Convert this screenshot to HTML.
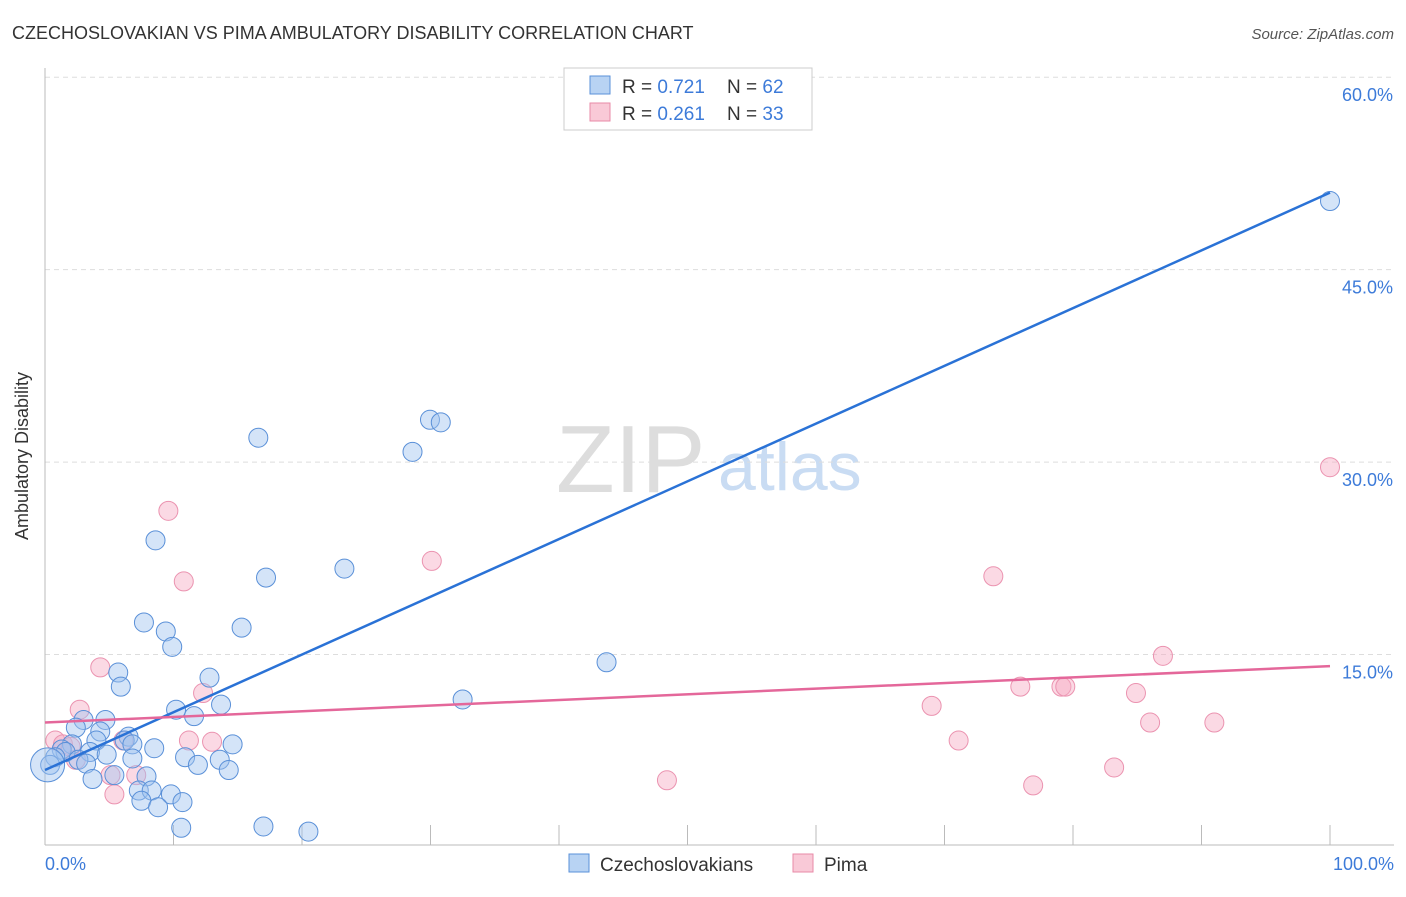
<!DOCTYPE html>
<html><head><meta charset="utf-8"><style>
body{margin:0;background:#fff;font-family:"Liberation Sans",sans-serif;}
svg text{font-family:"Liberation Sans",sans-serif;}
</style></head><body>
<svg width="1406" height="892">
<text x="12" y="39" font-size="18" fill="#333">CZECHOSLOVAKIAN VS PIMA AMBULATORY DISABILITY CORRELATION CHART</text>
<text x="1394" y="39" font-size="15" fill="#555" font-style="italic" text-anchor="end">Source: ZipAtlas.com</text>
<text x="556" y="492" font-size="96" fill="#ddd" font-family="Liberation Serif">ZIP</text>
<text x="718" y="490" font-size="68" fill="#c9dcf3">atlas</text>
<g id="grid"></g>
<line x1="45" y1="68" x2="45" y2="845" stroke="#bbb"/>
<line x1="45" y1="845" x2="1394" y2="845" stroke="#bbb"/>
<g id="ticks"></g>
<text x="28" y="456" font-size="18" fill="#333" text-anchor="middle" transform="rotate(-90 28 456)">Ambulatory Disability</text>
<text x="45" y="870" font-size="18" fill="#3d7bd9">0.0%</text>
<text x="1394" y="870" font-size="18" fill="#3d7bd9" text-anchor="end">100.0%</text>
<g id="pts"></g>
<g id="lines"></g>
<g>
<rect x="564" y="68" width="248" height="62" fill="#fff" stroke="#ccc"/>
<rect x="590" y="76" width="20" height="18" fill="#b8d3f3" stroke="#5a90d8"/>
<rect x="590" y="103" width="20" height="18" fill="#f9c9d7" stroke="#e88aa7"/>
<text x="622" y="93" font-size="19" fill="#333">R = <tspan fill="#3d7bd9">0.721</tspan></text>
<text x="727" y="93" font-size="19" fill="#333">N = <tspan fill="#3d7bd9">62</tspan></text>
<text x="622" y="120" font-size="19" fill="#333">R = <tspan fill="#3d7bd9">0.261</tspan></text>
<text x="727" y="120" font-size="19" fill="#333">N = <tspan fill="#3d7bd9">33</tspan></text>
</g>
<g>
<rect x="569" y="854" width="20" height="18" fill="#b8d3f3" stroke="#5a90d8"/>
<text x="600" y="871" font-size="19" fill="#333">Czechoslovakians</text>
<rect x="793" y="854" width="20" height="18" fill="#f9c9d7" stroke="#e88aa7"/>
<text x="824" y="871" font-size="19" fill="#333">Pima</text>
</g>
</svg>
<script>
const yTicks=[15,30,45,60];
const yTickLabels=["15.0%","30.0%","45.0%","60.0%"];
const blueX=[100,29.96,30.8,16.6,28.6,8.6,17.2,23.3,7.7,15.3,9.4,9.9,43.7,5.7,12.8,5.9,32.5,13.7,10.2,11.6,4.7,3.0,2.4,4.3,6.5,6.2,4.0,6.8,14.6,2.1,8.5,1.3,3.5,1.6,4.8,10.9,0.8,6.8,2.6,13.6,3.2,11.9,0.4,14.3,5.4,7.9,3.7,7.3,8.3,9.8,7.5,10.7,8.8,10.6,17.0,20.5,0.2];
const blueY=[50.35,33.3,33.1,31.9,30.8,23.9,21.0,21.7,17.5,17.1,16.8,15.6,14.4,13.6,13.2,12.5,11.5,11.1,10.7,10.2,9.9,9.9,9.3,9.0,8.6,8.3,8.3,8.0,8.0,8.0,7.7,7.6,7.4,7.4,7.2,7.0,7.0,6.9,6.8,6.8,6.5,6.4,6.4,6.0,5.6,5.5,5.3,4.4,4.4,4.1,3.6,3.5,3.1,1.5,1.6,1.2,6.4];
const pinkX=[100,9.6,30.1,10.8,73.8,87.0,4.3,75.9,79.1,79.4,12.3,84.9,69.0,2.7,86.0,91.0,0.8,6.1,11.2,13.0,71.1,1.4,2.0,2.4,5.1,7.1,83.2,48.4,76.9,5.4];
const pinkY=[29.6,26.2,22.3,20.7,21.1,14.9,14.0,12.5,12.5,12.5,12.0,12.0,11.0,10.7,9.7,9.7,8.3,8.3,8.3,8.2,8.3,8.0,7.8,6.8,5.6,5.6,6.2,5.2,4.8,4.1];
const blueTrend=[6.0,51.0];
const pinkTrend=[9.7,14.1];
const xs=v=>45+v*12.85, ys=v=>847-v*12.83;
const NS="http://www.w3.org/2000/svg";
function mk(t,a,p){const e=document.createElementNS(NS,t);for(const k in a)e.setAttribute(k,a[k]);p.appendChild(e);return e;}
const grid=document.getElementById('grid');
yTicks.forEach((v,i)=>{
 const l=mk('line',{x1:45,x2:1394,y1:ys(v),y2:ys(v),stroke:'#ddd','stroke-dasharray':'5,4'},grid);
 
 
 const t=mk('text',{x:1393,y:ys(v)+24,'font-size':18,fill:'#3d7bd9','text-anchor':'end'},grid);
 t.textContent=yTickLabels[i];
 
 
});
const tk=document.getElementById('ticks');
for(let i=1;i<=10;i++){
 const l=mk('line',{x1:xs(i*10),x2:xs(i*10),y1:825,y2:845,stroke:'#bbb'},tk);
 
 
}
const pts=document.getElementById('pts');
pinkX.forEach((x,i)=>{
 const c=mk('circle',{cx:xs(x),cy:ys(pinkY[i]),r:9.5,fill:'rgba(246,170,195,0.45)',stroke:'#eb93b0','stroke-width':1},pts);
 
 
});
blueX.forEach((x,i)=>{
 const c=mk('circle',{cx:xs(x),cy:ys(blueY[i]),r:i==blueX.length-1?17:9.5,fill:'rgba(160,196,240,0.45)',stroke:'#5a90d8','stroke-width':1},pts);
 
 
});
const ln=document.getElementById('lines');
const b=mk('line',{x1:xs(0),y1:ys(blueTrend[0]),x2:xs(100),y2:ys(blueTrend[1]),stroke:'#2a72d6','stroke-width':2.5},ln);


const p=mk('line',{x1:xs(0),y1:ys(pinkTrend[0]),x2:xs(100),y2:ys(pinkTrend[1]),stroke:'#e4679a','stroke-width':2.5},ln);


</script>
</body></html>
